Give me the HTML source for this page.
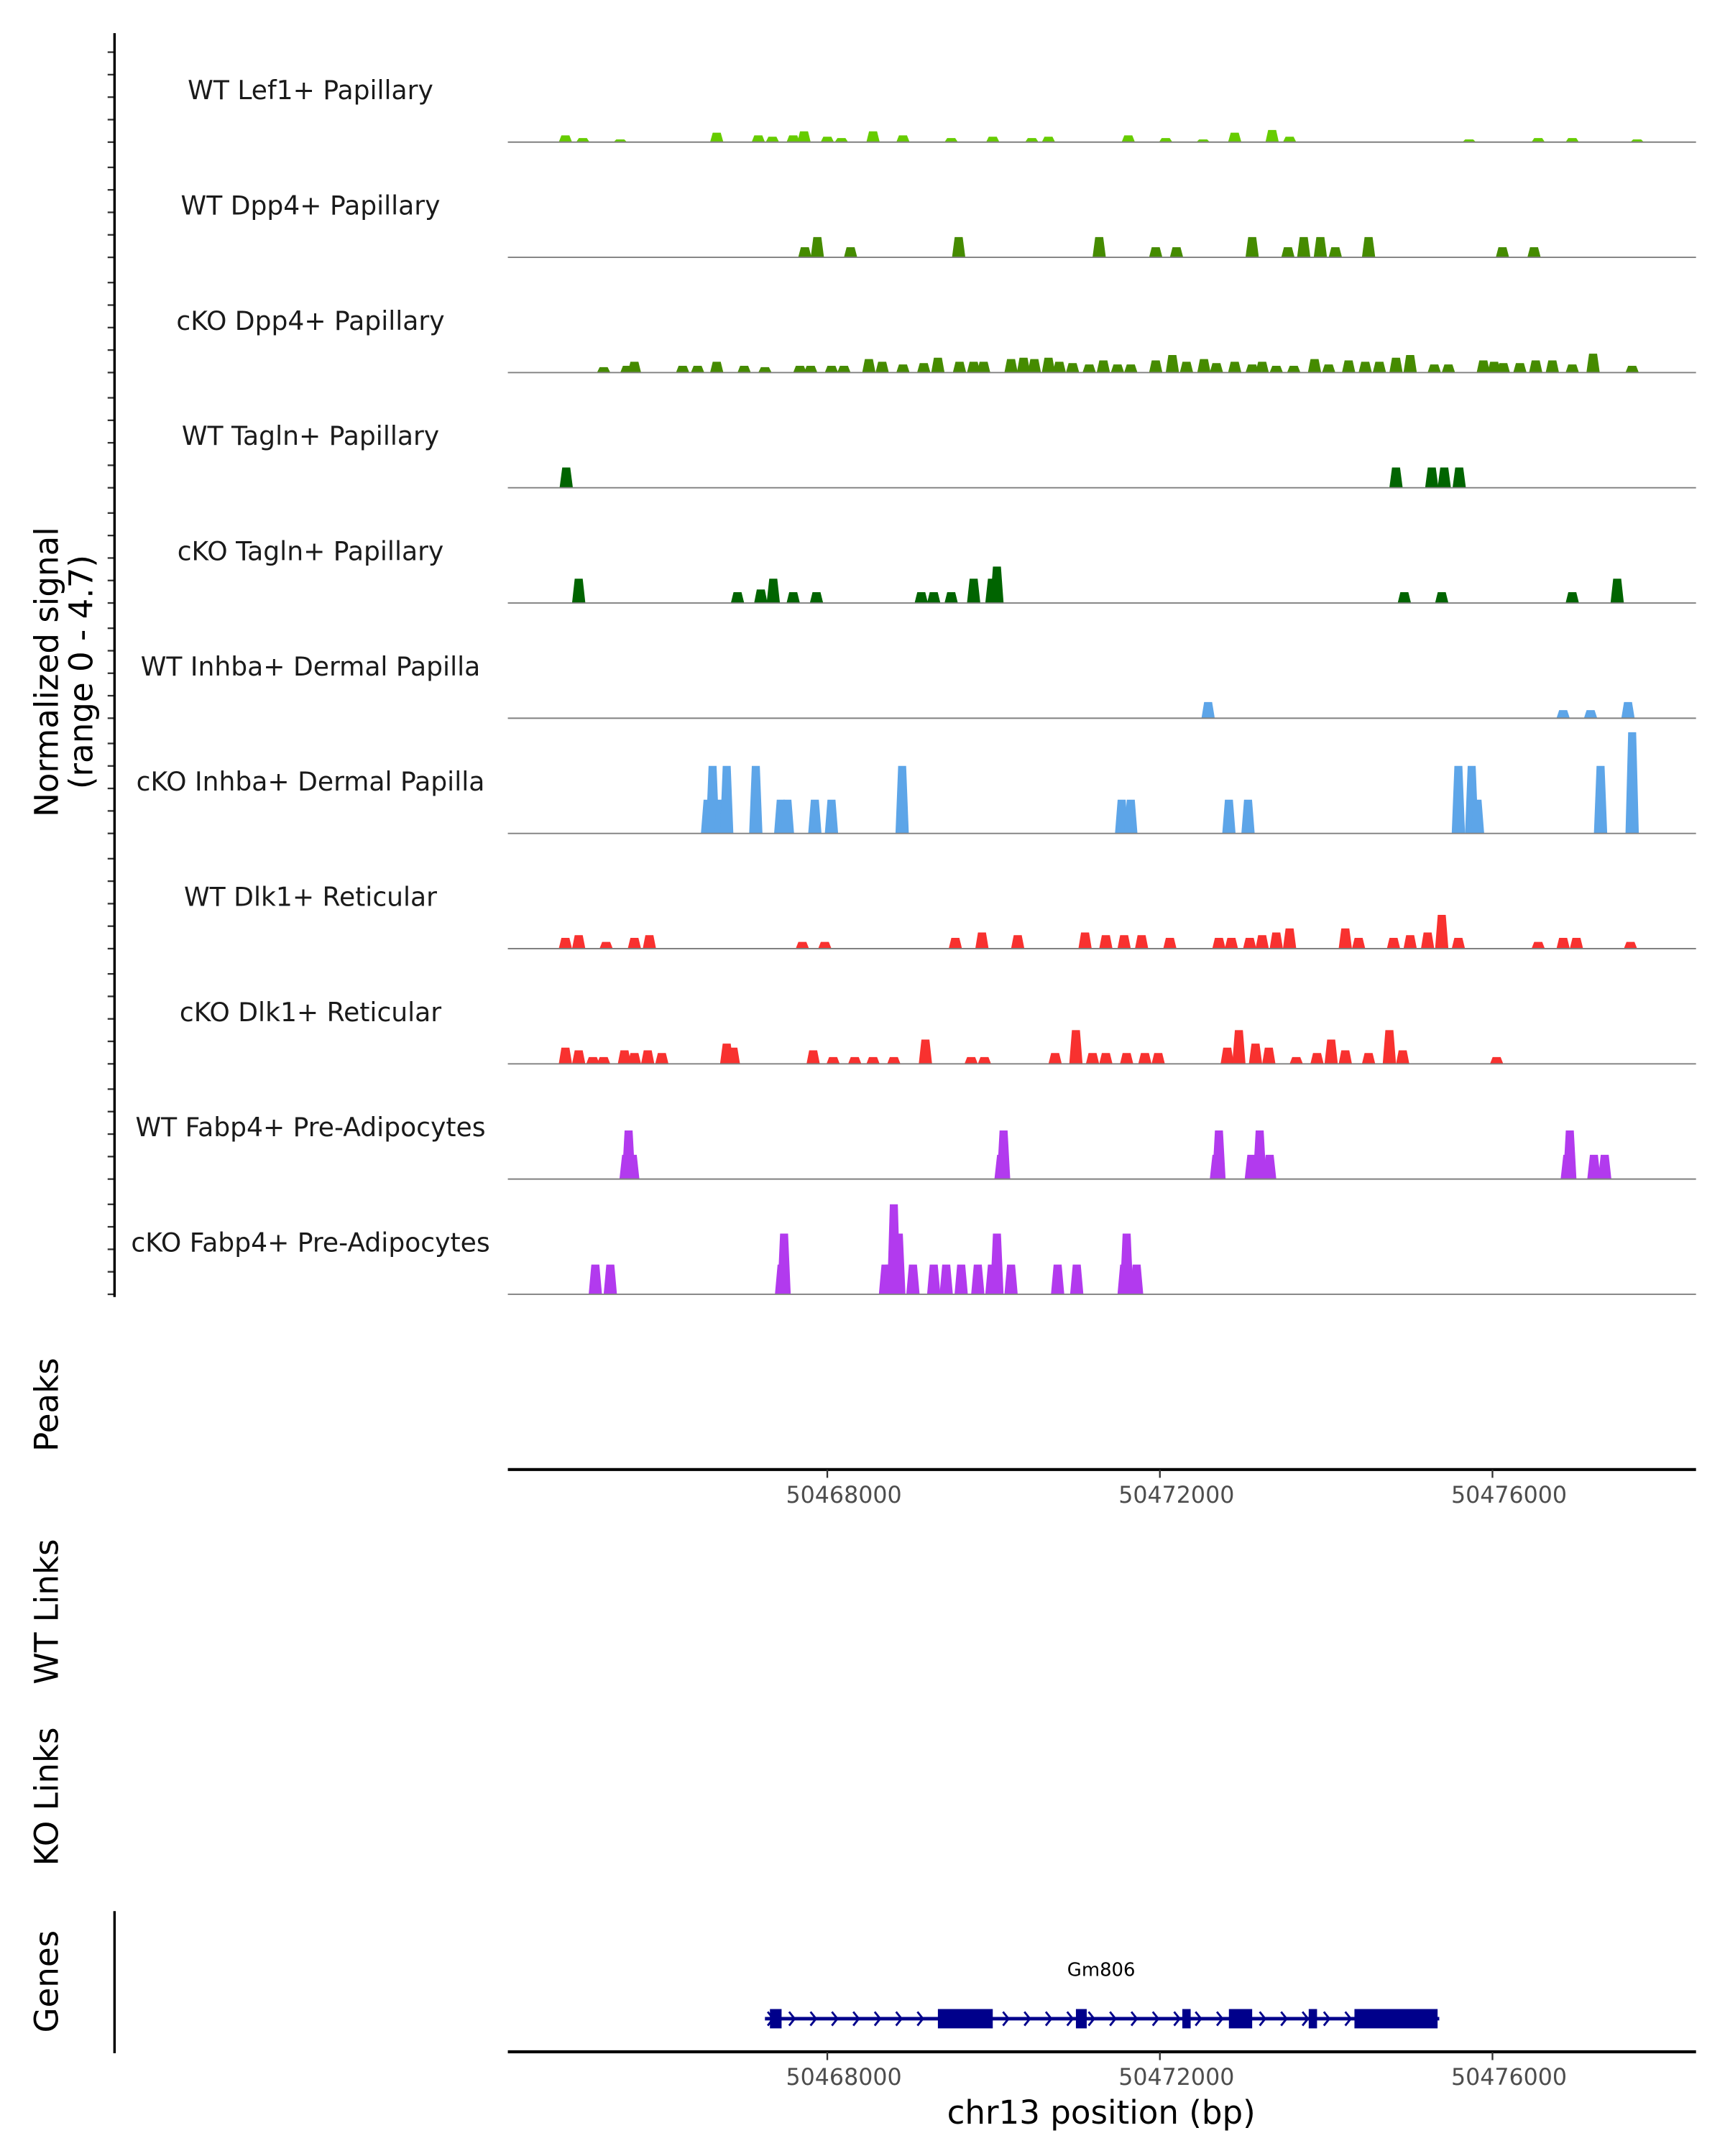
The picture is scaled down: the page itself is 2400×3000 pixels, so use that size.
<!DOCTYPE html>
<html><head><meta charset="utf-8">
<style>
html,body{margin:0;padding:0;background:#fff;}
svg{display:block;font-family:"DejaVu Sans","Liberation Sans",sans-serif;}
</style></head>
<body>
<svg id="chart" width="2400" height="3000" viewBox="0 0 1250 1562.5" xmlns="http://www.w3.org/2000/svg">
<g id="tracks"></g>
<g id="axes"></g>
<g id="gene"></g>
</svg>
<script>
// ---- data (positions in kb on chr13, values in normalized signal) ----
const trackNames = ["WT Lef1+ Papillary","WT Dpp4+ Papillary","cKO Dpp4+ Papillary","WT Tagln+ Papillary","cKO Tagln+ Papillary","WT Inhba+ Dermal Papilla","cKO Inhba+ Dermal Papilla","WT Dlk1+ Reticular","cKO Dlk1+ Reticular","WT Fabp4+ Pre-Adipocytes","cKO Fabp4+ Pre-Adipocytes"];
const trackColors = ["#66CC00","#458B00","#458B00","#006400","#006400","#5DA5E8","#5DA5E8","#F8312F","#F8312F","#B23AEE","#B23AEE"];
const lef1Pos = [50464.85,50465.06,50465.51,50466.67,50467.17,50467.34,50467.59,50467.72,50468.00,50468.17,50468.55,50468.91,50469.49,50469.99,50470.46,50470.66,50471.62,50472.07,50472.52,50472.90,50473.35,50473.56,50475.72,50476.55,50476.96,50477.74];
const lef1Val = [0.3,0.18,0.12,0.42,0.3,0.24,0.3,0.48,0.24,0.18,0.48,0.3,0.18,0.24,0.18,0.24,0.3,0.18,0.12,0.42,0.54,0.24,0.12,0.18,0.18,0.12];
const wtDppPos = [50467.73,50467.88,50468.28,50469.58,50471.27,50471.95,50472.20,50473.11,50473.54,50473.73,50473.93,50474.11,50474.51,50476.12,50476.50];
const wtDppVal = [0.45,0.9,0.45,0.9,0.9,0.45,0.45,0.9,0.45,0.9,0.9,0.45,0.9,0.45,0.45];
const koDppPos = [50465.31,50465.59,50465.68,50466.26,50466.44,50466.67,50467.00,50467.25,50467.67,50467.80,50468.05,50468.20,50468.50,50468.66,50468.91,50469.16,50469.33,50469.59,50469.76,50469.88,50470.21,50470.36,50470.49,50470.66,50470.79,50470.95,50471.15,50471.32,50471.49,50471.65,50471.95,50472.15,50472.32,50472.53,50472.68,50472.90,50473.11,50473.23,50473.40,50473.61,50473.86,50474.03,50474.27,50474.47,50474.64,50474.84,50475.01,50475.30,50475.47,50475.89,50476.02,50476.13,50476.33,50476.52,50476.72,50476.96,50477.21,50477.68];
const koDppVal = [0.24,0.3,0.48,0.3,0.3,0.48,0.3,0.24,0.3,0.3,0.3,0.3,0.6,0.48,0.36,0.42,0.66,0.48,0.48,0.48,0.6,0.66,0.6,0.66,0.48,0.42,0.36,0.54,0.36,0.36,0.54,0.78,0.48,0.6,0.42,0.48,0.36,0.48,0.3,0.3,0.6,0.36,0.54,0.48,0.48,0.66,0.78,0.36,0.36,0.54,0.48,0.42,0.42,0.54,0.54,0.36,0.84,0.3];
const wtTagPos = [50464.86,50474.84,50475.27,50475.42,50475.60];
const wtTagVal = [0.9,0.9,0.9,0.9,0.9];
const koTagPos = [50465.01,50466.92,50467.20,50467.35,50467.59,50467.87,50469.13,50469.28,50469.49,50469.76,50469.98,50470.04,50474.94,50475.39,50476.96,50477.50];
const koTagVal = [1.08,0.48,0.6,1.08,0.48,0.48,0.48,0.48,0.48,1.08,1.08,1.62,0.48,0.48,0.48,1.08];
const wtInhPos = [50472.58,50476.85,50477.18,50477.63];
const wtInhVal = [0.72,0.36,0.36,0.72];
const koInhPos = [50466.56,50466.62,50466.72,50466.79,50467.14,50467.44,50467.52,50467.85,50468.05,50468.90,50471.54,50471.65,50472.83,50473.06,50475.59,50475.75,50475.82,50477.30,50477.68];
const koInhVal = [1.5,3.0,1.5,3.0,3.0,1.5,1.5,1.5,1.5,3.0,1.5,1.5,1.5,1.5,3.0,3.0,1.5,3.0,4.5];
const wtDlkPos = [50464.85,50465.01,50465.34,50465.68,50465.86,50467.70,50467.97,50469.54,50469.86,50470.29,50471.10,50471.35,50471.57,50471.78,50472.12,50472.71,50472.86,50473.08,50473.23,50473.40,50473.56,50474.23,50474.39,50474.81,50475.01,50475.22,50475.39,50475.59,50476.55,50476.85,50477.01,50477.66];
const wtDlkVal = [0.48,0.6,0.3,0.48,0.6,0.3,0.3,0.48,0.72,0.6,0.72,0.6,0.6,0.6,0.48,0.48,0.48,0.48,0.6,0.72,0.9,0.9,0.48,0.48,0.6,0.72,1.5,0.48,0.3,0.48,0.48,0.3];
const koDlkPos = [50464.85,50465.01,50465.18,50465.31,50465.56,50465.68,50465.84,50466.01,50466.79,50466.87,50467.83,50468.07,50468.33,50468.55,50468.80,50469.18,50469.73,50469.89,50470.74,50470.99,50471.19,50471.35,50471.60,50471.82,50471.98,50472.81,50472.95,50473.15,50473.31,50473.64,50473.89,50474.06,50474.23,50474.51,50474.76,50474.92,50476.05];
const koDlkVal = [0.72,0.6,0.3,0.3,0.6,0.48,0.6,0.48,0.9,0.72,0.6,0.3,0.3,0.3,0.3,1.08,0.3,0.3,0.48,1.5,0.48,0.48,0.48,0.48,0.48,0.72,1.5,0.9,0.72,0.3,0.48,1.08,0.6,0.48,1.5,0.6,0.3];
const wtFabPos = [50465.58,50465.61,50465.66,50470.09,50470.12,50472.68,50472.71,50473.10,50473.21,50473.32,50473.20,50476.90,50476.93,50477.22,50477.35];
const wtFabVal = [1.08,2.16,1.08,1.08,2.16,1.08,2.16,1.08,1.08,1.08,2.16,1.08,2.16,1.08,1.08];
const koFabPos = [50465.21,50465.39,50467.45,50467.48,50468.70,50468.80,50468.86,50468.75,50469.03,50469.28,50469.43,50469.61,50469.81,50469.98,50470.04,50470.21,50470.77,50471.00,50471.57,50471.60,50471.72];
const koFabVal = [1.32,1.32,1.32,2.7,1.32,4.0,2.7,1.32,1.32,1.32,1.32,1.32,1.32,1.32,2.7,1.32,1.32,1.32,1.32,2.7,1.32];
const trackPos = [lef1Pos,wtDppPos,koDppPos,wtTagPos,koTagPos,wtInhPos,koInhPos,wtDlkPos,koDlkPos,wtFabPos,koFabPos];
const trackVal = [lef1Val,wtDppVal,koDppVal,wtTagVal,koTagVal,wtInhVal,koInhVal,wtDlkVal,koDlkVal,wtFabVal,koFabVal];
const tickKb = [50468,50472,50476];
const tickLabels = ["50468000","50472000","50476000"];
const exonStart = [50467.31,50469.33,50470.99,50472.27,50472.83,50473.79,50474.34];
const exonEnd = [50467.45,50469.99,50471.12,50472.37,50473.11,50473.89,50475.34];
const geneStart = 50467.25, geneEnd = 50475.36;

// ---- scales ----
const NS="http://www.w3.org/2000/svg";
const X0=368, X1=1229;
function xs(kb){ return 599.5 + (kb-50468)*241/4; }
const PXU=16.3; // px per signal unit
function base(i){ return 103 + i*83.5; }
function mk(tag, attrs, parent){ const e=document.createElementNS(NS,tag); for(const k in attrs) e.setAttribute(k,attrs[k]); parent.appendChild(e); return e; }

const gT=document.getElementById('tracks'), gA=document.getElementById('axes'), gG=document.getElementById('gene');
const peakW = 0.16;
trackNames.forEach((nm,i)=>{
  const b=base(i);
  const g=mk('g',{},gT);
  
  
  const lab=mk('text',{x:225,y:b-31,'text-anchor':'middle','font-size':18.8,fill:'#1a1a1a'},g);
  lab.textContent=nm;
  
  
  trackPos[i].forEach((p,j)=>{
    const v=trackVal[i][j]; const h=v*PXU;
    const xa=xs(p-peakW/2), xb=xs(p+peakW/2), w=xb-xa;
    const poly=mk('polygon',{points:`${xa},${b} ${xa+w*0.2},${b-h} ${xb-w*0.2},${b-h} ${xb},${b}`,fill:trackColors[i]},g);
    
    
  });
  const bl=mk('line',{x1:X0,x2:X1,y1:b,y2:b,stroke:'#808080','stroke-width':1},g);
  
  
  for(let k=0;k<=4;k++){
    const t=mk('line',{x1:78,x2:83,y1:b-k*PXU,y2:b-k*PXU,stroke:'#333','stroke-width':1.2},gA);
    
    
  }
});
// left axis
let e=mk('line',{x1:83,x2:83,y1:24,y2:940,stroke:'#000','stroke-width':1.8},gA);
 
function vtext(txt,x,y,name,size){ const t=mk('text',{x:x,y:y,'text-anchor':'middle','font-size':size||23.5,transform:`rotate(-90 ${x} ${y})`,fill:'#000'},gA); t.textContent=txt;   return t;}
vtext('Normalized signal',42,487,'y-axis-title');
vtext('(range 0 - 4.7)',67,487,'y-axis-range');
vtext('Peaks',42,1018,'peaks-label');
vtext('WT Links',42,1168,'wt-links-label');
vtext('KO Links',42,1302,'ko-links-label');
vtext('Genes',42,1436,'genes-label');
e=mk('line',{x1:83,x2:83,y1:1385,y2:1488,stroke:'#000','stroke-width':1.8},gA);
 
// x axes
[1065,1487].forEach((ya,ai)=>{
  const l=mk('line',{x1:X0,x2:X1,y1:ya,y2:ya,stroke:'#000','stroke-width':2.2},gA);
   
  tickKb.forEach((kb,k)=>{
    const t=mk('line',{x1:xs(kb),x2:xs(kb),y1:ya,y2:ya+6,stroke:'#333','stroke-width':1.2},gA);
     
    const tl=mk('text',{x:xs(kb)+12,y:ya+24,'text-anchor':'middle','font-size':16.5,fill:'#4d4d4d'},gA);
    tl.textContent=tickLabels[k];
     
  });
});
e=mk('text',{x:798,y:1539,'text-anchor':'middle','font-size':23.5,fill:'#000'},gA);
e.textContent='chr13 position (bp)';
 
// gene model
const gy=1463;
e=mk('line',{x1:xs(geneStart),x2:xs(geneEnd),y1:gy,y2:gy,stroke:'#00008B','stroke-width':2.5},gG);
 
for(let x=xs(geneStart)+2;x<xs(geneEnd)-4;x+=15.5){
  const c=mk('polyline',{points:`${x},${gy-5} ${x+4},${gy} ${x},${gy+5}`,fill:'none',stroke:'#00008B','stroke-width':1.5},gG);
   
}
exonStart.forEach((s,k)=>{
  const r=mk('rect',{x:xs(s),y:gy-7,width:xs(exonEnd[k])-xs(s),height:14,fill:'#00008B'},gG);
   
});
e=mk('text',{x:798,y:1432,'text-anchor':'middle','font-size':13.5,fill:'#000'},gG);
e.textContent='Gm806';
 
</script>
</body></html>
